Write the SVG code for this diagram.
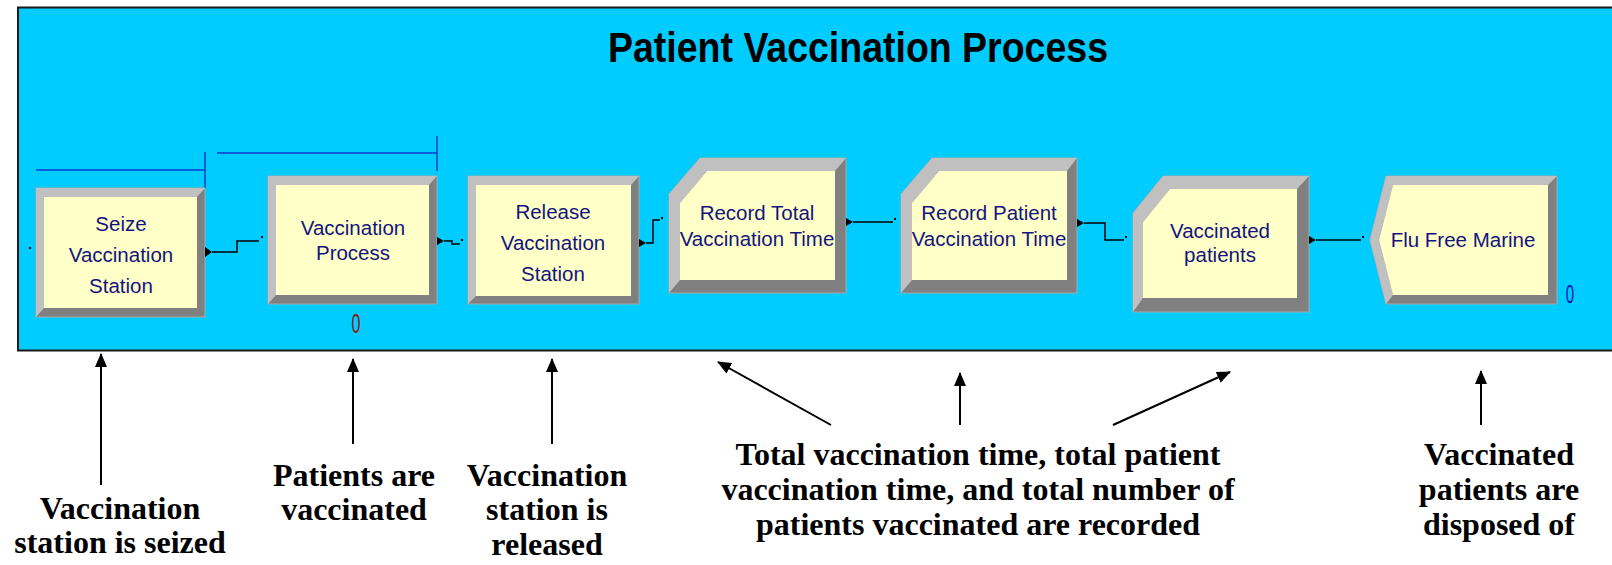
<svg xmlns="http://www.w3.org/2000/svg" width="1612" height="565" viewBox="0 0 1612 565">
<style>
.lt{fill:#c0c0c0}
.dk{fill:#808080;stroke:#a8a8a8;stroke-width:1}
.in{fill:#ffffc8}
.nt{font-family:"Liberation Sans",Arial,sans-serif;font-size:20.5px;fill:#141480;text-anchor:middle}
.an{font-family:"Liberation Serif","Times New Roman",serif;font-weight:bold;font-size:32px;fill:#000;text-anchor:middle}
.cn{fill:none;stroke:#000;stroke-width:1.5}
.br{fill:none;stroke:#0a3ad0;stroke-width:1.5}
.aa{fill:none;stroke:#000;stroke-width:2}
</style>
<defs>
<marker id="ah" viewBox="0 0 14 12" refX="13" refY="6" markerWidth="14" markerHeight="12" markerUnits="userSpaceOnUse" orient="auto">
<path d="M0,0 L14,6 L0,12 Z" fill="#000"/>
</marker>
</defs>
<rect width="1612" height="565" fill="#fff"/>
<rect x="18" y="7.5" width="1610" height="343" fill="#00ccff" stroke="#1a1a1a" stroke-width="2"/>
<text x="858" y="62" font-family="'Liberation Sans',Arial,sans-serif" font-weight="bold" font-size="43" fill="#000" text-anchor="middle" textLength="500" lengthAdjust="spacingAndGlyphs">Patient Vaccination Process</text>

<g id="brackets">
<path class="br" d="M36,170 H205 M205,152 V188"/>
<path class="br" d="M217,153 H437 M437,136 V171"/>
</g>

<g id="seize">
<rect class="dk" x="36" y="188" width="169" height="129"/>
<polygon class="lt" points="36,317 36,188 205,188 197,197 44,197 44,308"/>
<rect class="in" x="44" y="197" width="153" height="111"/>
<text class="nt"><tspan x="121" y="231">Seize</tspan><tspan x="121" y="262">Vaccination</tspan><tspan x="121" y="293">Station</tspan></text>
</g>

<g id="vaccination-process">
<rect class="dk" x="268" y="176" width="169" height="128"/>
<polygon class="lt" points="268,304 268,176 437,176 429,185 276,185 276,295"/>
<rect class="in" x="276" y="185" width="153" height="110"/>
<text class="nt"><tspan x="353" y="235">Vaccination</tspan><tspan x="353" y="260">Process</tspan></text>
<text x="356" y="333" font-family="'Liberation Sans',Arial,sans-serif" font-size="27" fill="#8b1a1a" text-anchor="middle" transform="translate(356 0) scale(0.6 1) translate(-356 0)">0</text>
</g>

<g id="release">
<rect class="dk" x="468" y="176" width="171" height="128"/>
<polygon class="lt" points="468,304 468,176 639,176 631,185 476,185 476,296"/>
<rect class="in" x="476" y="185" width="155" height="111"/>
<text class="nt"><tspan x="553" y="219">Release</tspan><tspan x="553" y="250">Vaccination</tspan><tspan x="553" y="281">Station</tspan></text>
</g>

<g id="record-total">
<polygon class="dk" points="669,194 700,158 846,158 846,293 669,293"/>
<polygon class="lt" points="669,293 669,194 700,158 846,158 835,171 707,171 680,203 680,280"/>
<polygon class="in" points="680,203 707,171 835,171 835,280 680,280"/>
<text class="nt"><tspan x="757" y="220">Record Total</tspan><tspan x="757" y="246">Vaccination Time</tspan></text>
</g>

<g id="record-patient">
<polygon class="dk" points="901,194 932,158 1077,158 1077,293 901,293"/>
<polygon class="lt" points="901,293 901,194 932,158 1077,158 1067,171 939,171 912,203 912,280"/>
<polygon class="in" points="912,203 939,171 1067,171 1067,280 912,280"/>
<text class="nt"><tspan x="989" y="220">Record Patient</tspan><tspan x="989" y="246">Vaccination Time</tspan></text>
</g>

<g id="vaccinated-patients">
<polygon class="dk" points="1133,213 1163,176 1309,176 1309,312 1133,312"/>
<polygon class="lt" points="1133,312 1133,213 1163,176 1309,176 1297,189 1170,189 1143,222 1143,298"/>
<polygon class="in" points="1143,222 1170,189 1297,189 1297,298 1143,298"/>
<text class="nt"><tspan x="1220" y="238">Vaccinated</tspan><tspan x="1220" y="262">patients</tspan></text>
</g>

<g id="flu-free-marine">
<polygon class="dk" points="1370,240 1386,176 1557,176 1557,304 1386,304"/>
<polygon class="lt" points="1386,304 1370,240 1386,176 1557,176 1548,185 1393,185 1379,240 1393,295"/>
<polygon class="in" points="1379,240 1393,185 1548,185 1548,295 1393,295"/>
<text class="nt" x="1463" y="247">Flu Free Marine</text>
<text x="1570" y="303" font-family="'Liberation Sans',Arial,sans-serif" font-size="25" fill="#0018b0" text-anchor="middle" transform="translate(1570 0) scale(0.6 1) translate(-1570 0)">0</text>
</g>

<g id="connectors">
<rect x="29" y="247" width="2" height="2" fill="#000"/>
<polygon points="205,247 212,252 205,257" fill="#000"/>
<path class="cn" d="M212,252 H237 V241 H259"/>
<rect x="261" y="236" width="2" height="2" fill="#000"/>
<polygon points="437,237 444,241 437,245" fill="#000"/>
<path class="cn" d="M444,241 H452 V244 H460"/>
<rect x="461" y="239" width="2" height="2" fill="#000"/>
<polygon points="639,239 646,243 639,247" fill="#000"/>
<path class="cn" d="M646,243 H653 V220 H660"/>
<rect x="661" y="217" width="2" height="2" fill="#000"/>
<polygon points="846,218 853,222 846,226" fill="#000"/>
<path class="cn" d="M853,222 H893"/>
<rect x="894" y="218" width="2" height="2" fill="#000"/>
<polygon points="1077,219 1084,223 1077,227" fill="#000"/>
<path class="cn" d="M1084,223 H1105 V240 H1124"/>
<rect x="1125" y="236" width="2" height="2" fill="#000"/>
<polygon points="1309,236 1316,240 1309,244" fill="#000"/>
<path class="cn" d="M1316,240 H1361"/>
<rect x="1362" y="236" width="2" height="2" fill="#000"/>
</g>

<g id="annotation-arrows">
<line class="aa" x1="101" y1="485" x2="101" y2="354" marker-end="url(#ah)"/>
<line class="aa" x1="353" y1="444" x2="353" y2="359" marker-end="url(#ah)"/>
<line class="aa" x1="552" y1="444" x2="552" y2="359" marker-end="url(#ah)"/>
<line class="aa" x1="831" y1="425" x2="718" y2="362" marker-end="url(#ah)"/>
<line class="aa" x1="960" y1="425" x2="960" y2="373" marker-end="url(#ah)"/>
<line class="aa" x1="1113" y1="425" x2="1230" y2="372" marker-end="url(#ah)"/>
<line class="aa" x1="1481" y1="425" x2="1481" y2="371" marker-end="url(#ah)"/>
</g>

<g id="annotations">
<text class="an"><tspan x="120" y="519">Vaccination</tspan><tspan x="120" y="553">station is seized</tspan></text>
<text class="an"><tspan x="354" y="486">Patients are</tspan><tspan x="354" y="520">vaccinated</tspan></text>
<text class="an"><tspan x="547" y="486">Vaccination</tspan><tspan x="547" y="520">station is</tspan><tspan x="547" y="555">released</tspan></text>
<text class="an"><tspan x="978" y="465">Total vaccination time, total patient</tspan><tspan x="978" y="500">vaccination time, and total number of</tspan><tspan x="978" y="535">patients vaccinated are recorded</tspan></text>
<text class="an"><tspan x="1499" y="465">Vaccinated</tspan><tspan x="1499" y="500">patients are</tspan><tspan x="1499" y="535">disposed of</tspan></text>
</g>
</svg>
